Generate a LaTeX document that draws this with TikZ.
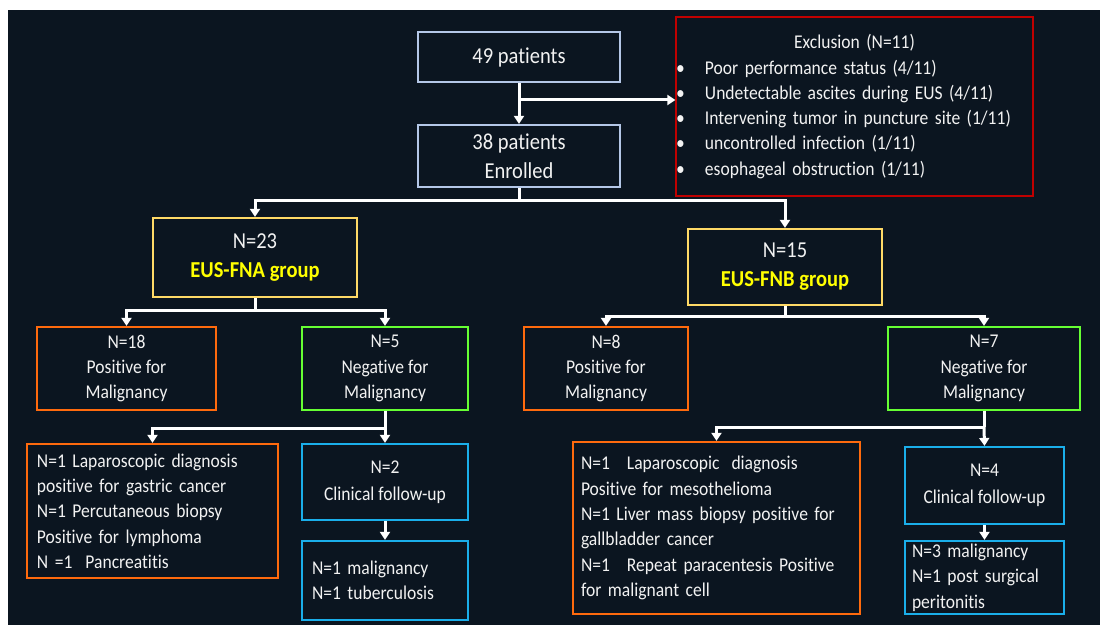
\documentclass[tikz,border=0pt]{standalone}
\usepackage{fontspec}
\setmainfont{Carlito}[FakeStretch=0.9, Ligatures=NoCommon]
\usetikzlibrary{arrows.meta}
\definecolor{bgdark}{HTML}{0B1520}
\definecolor{txt}{HTML}{F2F2F2}
\definecolor{bstart}{HTML}{B4C7E7}
\definecolor{bred}{HTML}{C00000}
\definecolor{bgold}{HTML}{FFD966}
\definecolor{tyel}{HTML}{FFFF00}
\definecolor{borange}{HTML}{FF6A0D}
\definecolor{bgreen}{HTML}{66FF33}
\definecolor{bblue}{HTML}{1AAEEA}
\tikzset{
  box/.style={draw, line width=2.2bp, text=txt, inner sep=0pt, align=center,
    font=\fontsize{19.5bp}{25.3bp}\selectfont},
  bigbox/.style={box, font=\fontsize{22.8bp}{29bp}\selectfont},
  leftbox/.style={box, align=left},
  arr/.style={draw=white, line width=3bp, -{Triangle[width=10bp,length=8bp]}},
  ln/.style={draw=white, line width=3bp},
}
\begin{document}
\begin{tikzpicture}[x=1bp,y=-1bp]
\useasboundingbox (0,0) rectangle (1100,625);
\fill[white] (0,0) rectangle (1100,625);
\fill[bgdark] (8,10) rectangle (1100,625);

\node[bigbox, draw=bstart, minimum width=202bp, minimum height=50bp] (p49) at (519,57) {49 patients};
\node[bigbox, draw=bstart, minimum width=202bp, minimum height=62bp] (enr) at (519,156) {38 patients\\Enrolled};
\node[leftbox, draw=bred, line width=1.2bp, text width=357bp, minimum height=179bp] (excl) at (854.5,106.5)
 {\makebox[357bp][c]{Exclusion (N=11)}\\
  \makebox[29bp][l]{\textbullet}Poor performance status (4/11)\\
  \makebox[29bp][l]{\textbullet}Undetectable ascites during EUS (4/11)\\
  \makebox[29bp][l]{\textbullet}Intervening tumor in puncture site (1/11)\\
  \makebox[29bp][l]{\textbullet}uncontrolled infection (1/11)\\
  \makebox[29bp][l]{\textbullet}esophageal obstruction (1/11)};

\node[bigbox, draw=bgold, minimum width=204bp, minimum height=79bp] (fna) at (255,257.5)
 {N=23\\\textcolor{tyel}{\textbf{EUS-FNA group}}};
\node[bigbox, draw=bgold, minimum width=194bp, minimum height=76bp] (fnb) at (785,267)
 {N=15\\\textcolor{tyel}{\textbf{EUS-FNB group}}};

\node[box, draw=borange, minimum width=179bp, minimum height=83bp] (pos18) at (126.5,368.5) {N=18\\Positive for\\Malignancy};
\node[box, draw=bgreen, minimum width=166bp, minimum height=83bp] (neg5) at (385,368.5) {N=5\\Negative for\\Malignancy};
\node[box, draw=borange, minimum width=164bp, minimum height=83bp] (pos8) at (606,368.5) {N=8\\Positive for\\Malignancy};
\node[box, draw=bgreen, minimum width=192bp, minimum height=83bp] (neg7) at (984,368.5) {N=7\\Negative for\\Malignancy};

\node[leftbox, draw=borange, text width=231bp, inner xsep=10bp, minimum height=134bp] (d18) at (152.5,511)
 {N=1 Laparoscopic diagnosis\\positive for gastric cancer\\N=1 Percutaneous biopsy\\Positive for lymphoma\\N =1~~Pancreatitis};
\node[box, draw=bblue, minimum width=166bp, minimum height=76bp] (fu2) at (385,482) {N=2\\[2bp]Clinical follow-up};
\node[leftbox, draw=bblue, text width=146bp, inner xsep=10bp, minimum height=79bp] (r2) at (385,580.5)
 {N=1 malignancy\\N=1 tuberculosis};

\node[leftbox, draw=borange, text width=271bp, inner xsep=8bp, minimum height=172bp] (d8) at (716.5,528)
 {N=1\hspace{17bp}Laparoscopic\hspace{12bp}diagnosis\\Positive for mesothelioma\\N=1 Liver mass biopsy positive for\\gallbladder cancer\\N=1\hspace{17bp}Repeat paracentesis Positive\\for malignant cell};
\node[box, draw=bblue, minimum width=159bp, minimum height=77bp] (fu4) at (984.5,485.5) {N=4\\[2bp]Clinical follow-up};
\node[leftbox, draw=bblue, text width=145bp, inner xsep=7bp, minimum height=73bp] (r4) at (984.5,577.5)
 {N=3 malignancy\\N=1 post surgical\\peritonitis};

% connectors
\coordinate (j1) at (519,100);
\draw[arr] (p49) -- (enr);
\draw[arr] (j1) -- (excl.west |- j1);

\coordinate (b1) at (519,201);
\draw[ln] (enr.south) -- (b1);
\draw[arr] (b1) -| (fna.north);
\draw[arr] (b1) -| (fnb.north);

\coordinate (b2) at (255,310);
\draw[ln] (fna.south) -- (b2);
\draw[arr] (b2) -| (pos18.north);
\draw[arr] (b2) -| (neg5.north);

\coordinate (b3) at (785,316);
\draw[ln] (fnb.south) -- (b3);
\draw[arr] (b3) -| (pos8.north);
\draw[arr] (b3) -| (neg7.north);

\coordinate (b4) at (385,428);
\draw[ln] (neg5.south) -- (b4);
\draw[arr] (b4) -| (d18.north);
\draw[arr] (b4) -- (fu2.north);
\draw[arr] (fu2) -- (r2);

\coordinate (b5) at (984,427);
\draw[ln] (neg7.south) -- (b5);
\draw[arr] (b5) -| (d8.north);
\draw[arr] (b5) -- (fu4.north);
\draw[arr] (fu4) -- (r4);
\end{tikzpicture}
\end{document}
